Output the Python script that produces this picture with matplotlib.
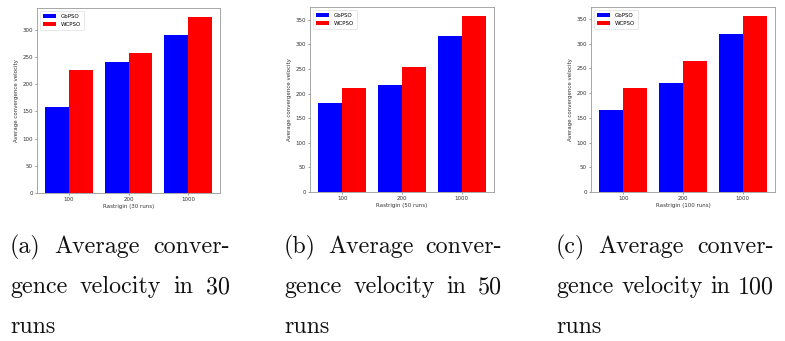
import matplotlib
matplotlib.use('Agg')
import matplotlib.pyplot as plt
import numpy as np

# data
sizes = ['100', '200', '1000']
runs = [30, 50, 100]
gbpso = [[158, 240, 290], [181, 217, 317], [165, 221, 319]]
wcpso = [[227, 258, 324], [212, 253, 358], [211, 264, 356]]
captions = [['(a) Average conver-', 'gence velocity in 30', 'runs'],
            ['(b) Average conver-', 'gence velocity in 50', 'runs'],
            ['(c) Average conver-', 'gence velocity in 100', 'runs']]

W, H = 785, 341
fig = plt.figure(figsize=(W / 100., H / 100.), dpi=100)

# axes boxes in pixels (left, top, right, bottom)
boxes = [(37, 8, 220, 193), (310, 7, 494, 192), (591, 7, 775, 192)]
cols = [(10, 230), (284, 502), (556, 774)]
baselines = [253, 293, 333]
fs = 4.0
cap_fs = 17.3


def put_line(text, x0, x1, y, justify):
    words = text.split(' ')
    objs = [fig.text(0, 0, w, fontsize=cap_fs, family='cmr10',
                     va='baseline', ha='left', color='#111111') for w in words]
    r = fig.canvas.get_renderer()
    widths = [o.get_window_extent(r).width for o in objs]
    if justify and len(words) > 1:
        gap = (x1 - x0 - sum(widths)) / (len(words) - 1)
    else:
        gap = cap_fs * 0.45
    x = x0
    for o, w in zip(objs, widths):
        o.set_position((x / W, 1 - y / H))
        x += w + gap


for i in range(3):
    l, t, r, b = boxes[i]
    ax = fig.add_axes([l / W, 1 - b / H, (r - l) / W, (b - t) / H])
    x = np.arange(len(sizes))
    ax.bar(x - 0.2, gbpso[i], 0.4, color='blue', label='GbPSO')
    ax.bar(x + 0.2, wcpso[i], 0.4, color='red', label='WCPSO')
    ax.set_xticks(x)
    ax.set_xticklabels(sizes)
    ax.set_xlabel('Rastrigin ({} runs)'.format(runs[i]), fontsize=fs,
                  labelpad=1.5, color='#333333')
    ax.set_ylabel('Average convergence velocity', fontsize=fs,
                  labelpad=2.5, color='#333333')
    ax.tick_params(labelsize=fs, length=1.5, width=0.4, pad=1.5,
                   colors='#555555', labelcolor='#333333')
    for s in ax.spines.values():
        s.set_linewidth(0.6)
        s.set_color('#999999')
    leg = ax.legend(loc='upper left', fontsize=fs, handlelength=2.4,
                    borderpad=0.6, labelspacing=0.5)
    leg.get_frame().set_linewidth(0.4)

    x0, x1 = cols[i]
    for k, line in enumerate(captions[i]):
        put_line(line, x0, x1, baselines[k], k < 2)

fig.savefig('out.png', dpi=100)
